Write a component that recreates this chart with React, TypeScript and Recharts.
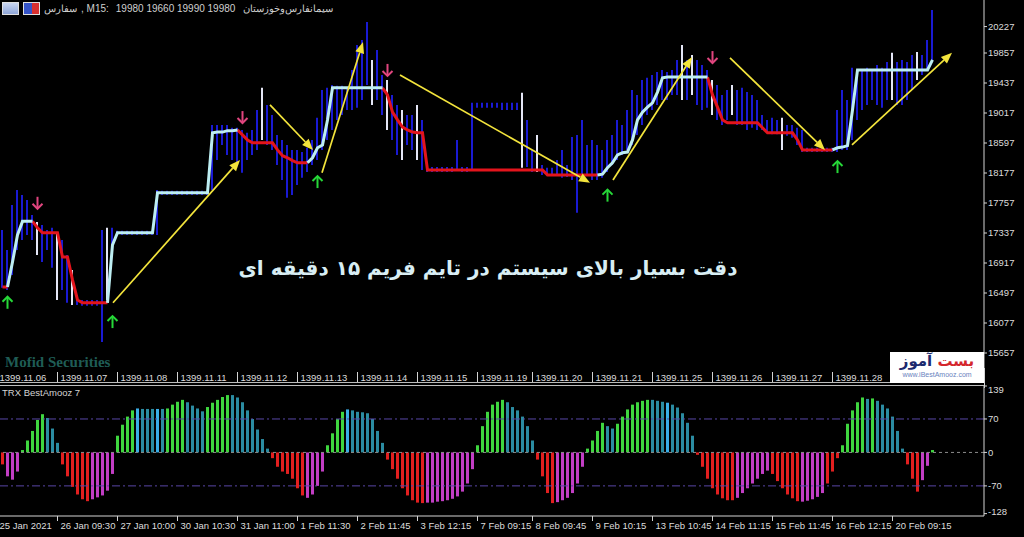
import React from 'react';
import {
    ComposedChart,
    Bar,
    Line,
    Scatter,
    XAxis,
    YAxis,
    ReferenceLine,
    Cell,
} from 'recharts';

// M15 bars: high / low per bar
const priceHigh = [
    17380, 17100, 17730, 17940, 17870, 17800, 17590, 17490, 17450, 17380,
    17410, 17350, 17240, 17030, 16820, 16470, 16400, 16400, 16400, 16400,
    17380, 17410, 17410, 17370, 17370, 17370, 17370, 17370, 17370, 17370,
    17370, 17940, 17930, 17930, 17930, 17930, 17930, 17930, 17930, 17930,
    17930, 17930, 18850, 18850, 18850, 18850, 18810, 18810, 18780, 18740,
    18780, 19060, 19370, 19130, 18990, 18710, 18640, 18570, 18500, 18500,
    18470, 18530, 18640, 18950, 19340, 19370, 19410, 19400, 19400, 19370,
    19620, 19970, 20040, 20290, 19760, 19900, 19550, 19480, 19270, 19130,
    19060, 18990, 18990, 19130, 18920, 18290, 18260, 18260, 18260, 18260,
    18260, 18640, 18260, 18260, 19160, 19160, 19160, 19160, 19160, 19160,
    19160, 19160, 19160, 19160, 19300, 18920, 18500, 18710, 18290, 18250,
    18250, 18360, 18500, 18290, 18680, 18710, 18920, 18570, 18640, 18570,
    18500, 18640, 18710, 18920, 18850, 19060, 19340, 19270, 19480, 19510,
    19550, 19590, 19620, 19590, 19620, 19760, 19970, 19760, 19830, 19760,
    19690, 19620, 19480, 19410, 19270, 19340, 19410, 19340, 19370, 19310,
    19270, 19200, 18990, 18920, 18950, 18920, 18950, 18850, 18850, 18810,
    18780, 18530, 18530, 18530, 18530, 18530, 18530, 19060, 19340, 19200,
    19650, 19620, 19620, 19650, 19620, 19690, 19650, 19730, 19860, 19730,
    19760, 19730, 19830, 19870, 19830, 20040, 20460,
];

const priceLow = [
    16570, 16540, 16750, 17100, 17240, 17310, 17240, 17030, 16930, 17100,
    16850, 16400, 16540, 16360, 16330, 16330, 16320, 16320, 16320, 16320,
    15810, 16400, 17100, 17310, 17310, 17310, 17310, 17310, 17310, 17310,
    17310, 17310, 17870, 17870, 17870, 17870, 17870, 17870, 17870, 17870,
    17870, 17870, 17940, 18360, 18570, 18430, 18360, 18330, 18180, 18360,
    18430, 18500, 18640, 18570, 18500, 18290, 18080, 17830, 17870, 18010,
    18110, 18190, 18290, 18360, 18500, 18640, 18780, 18920, 18990, 19060,
    19060, 19090, 19200, 19410, 19130, 19200, 18990, 18780, 18640, 18430,
    18360, 18570, 18500, 18360, 18220, 18190, 18190, 18190, 18190, 18190,
    18190, 18220, 18190, 18190, 18220, 19090, 19090, 19090, 19090, 19090,
    19060, 19060, 19060, 19060, 18250, 18260, 18190, 18190, 18150, 18140,
    18140, 18140, 18110, 18120, 18080, 17620, 18150, 18150, 18080, 18080,
    18110, 18190, 18290, 18360, 18430, 18500, 18570, 18710, 18850, 18990,
    19060, 19130, 19200, 19200, 19270, 19270, 19200, 19200, 19270, 19130,
    19060, 19090, 18990, 18920, 18850, 18920, 18990, 18850, 18850, 18780,
    18810, 18780, 18780, 18740, 18720, 18720, 18500, 18700, 18670, 18570,
    18470, 18470, 18470, 18470, 18470, 18470, 18470, 18470, 18500, 18500,
    18640, 18920, 19060, 19130, 19200, 19130, 19090, 19200, 19200, 19130,
    19130, 19200, 19340, 19480, 19550, 19620, 19730,
];

// bars drawn in white instead of blue
const whiteBars = [7, 11, 14, 21, 52, 74, 77, 80, 83, 104, 107, 136, 138, 142, 146, 156, 178, 183];

// trailing stop line and its direction (U = cyan, D = red)
const trail = [
    16580, 16580, 16930, 17310, 17500, 17500, 17500, 17410, 17340, 17340,
    17340, 17340, 17000, 17000, 16680, 16400, 16360, 16360, 16360, 16360,
    16360, 16360, 17170, 17340, 17340, 17340, 17340, 17340, 17340, 17340,
    17340, 17900, 17900, 17900, 17900, 17900, 17900, 17900, 17900, 17900,
    17900, 17900, 18740, 18750, 18750, 18770, 18770, 18780, 18710, 18640,
    18600, 18600, 18600, 18600, 18600, 18500, 18420, 18390, 18350, 18320,
    18320, 18320, 18390, 18530, 18570, 18920, 19370, 19370, 19370, 19370,
    19370, 19370, 19370, 19370, 19370, 19370, 19370, 19270, 19030, 18920,
    18820, 18780, 18750, 18740, 18740, 18220, 18220, 18220, 18220, 18220,
    18220, 18220, 18220, 18220, 18220, 18220, 18220, 18220, 18220, 18220,
    18220, 18220, 18220, 18220, 18220, 18220, 18220, 18220, 18220, 18150,
    18150, 18150, 18150, 18150, 18150, 18150, 18150, 18150, 18150, 18150,
    18160, 18250, 18320, 18430, 18460, 18470, 18640, 18920, 19030, 19100,
    19160, 19310, 19510, 19520, 19520, 19520, 19520, 19520, 19520, 19520,
    19520, 19520, 19270, 19100, 18920, 18880, 18880, 18880, 18880, 18880,
    18880, 18880, 18810, 18740, 18740, 18740, 18740, 18740, 18740, 18640,
    18500, 18500, 18500, 18500, 18500, 18500, 18500, 18530, 18540, 18560,
    19060, 19620, 19620, 19620, 19620, 19620, 19620, 19620, 19620, 19620,
    19620, 19620, 19620, 19620, 19620, 19620, 19760,
];

const trend =
    'DDUUUUUDDD' + 'DDDDDDDDDD' + 'DDUUUUUUUU' + 'UUUUUUUUUU' + 'UUUUUUUUDD' +
    'DDDDDDDDDD' + 'DDUUUUUUUU' + 'UUUUUUUDDD' + 'DDDDDDDDDD' + 'DDDDDDDDDD' +
    'DDDDDDDDDD' + 'DDDDDDDDDD' + 'UUUUUUUUUU' + 'UUUUUUUUUU' + 'UUDDDDDDDD' +
    'DDDDDDDDDD' + 'DDDDDDDUUU' + 'UUUUUUUUUU' + 'UUUUUUU';

// TRX BestAmooz 7 oscillator
const osc = [
    -25, -50, -57, -40, 5, 25, 45, 68, 80, 72,
    50, 20, -25, -50, -72, -88, -98, -102, -98, -94,
    -90, -80, -45, 35, 58, 75, 88, 92, 91, 91,
    91, 91, 91, 92, 100, 106, 110, 105, 98, 92,
    86, 95, 104, 110, 116, 120, 120, 115, 105, 88,
    70, 48, 28, 8, -12, -30, -40, -45, -55, -75,
    -90, -95, -88, -70, -40, 15, 40, 70, 85, 90,
    88, 85, 84, 82, 70, 45, 20, -15, -35, -55,
    -75, -90, -100, -105, -106, -105, -105, -103, -102, -100,
    -97, -92, -82, -65, -35, 15, 55, 85, 100, 106,
    110, 105, 95, 88, 75, 55, 25, -15, -50, -85,
    -106, -104, -100, -95, -85, -65, -30, 8, 25, 45,
    62, 55, 50, 60, 75, 90, 100, 105, 108, 110,
    110, 108, 106, 104, 100, 94, 82, 62, 35, -5,
    -30, -55, -75, -88, -96, -100, -100, -95, -85, -75,
    -65, -55, -45, -38, -45, -60, -75, -88, -96, -102,
    -103, -101, -98, -93, -85, -65, -40, -12, 15, 60,
    88, 105, 115, 112, 113, 108, 100, 92, 75, 45,
    8, -25, -55, -82, -58, -28, 5,
];

const oscColor =
    'rmmmgggggt' + 'ttrrrrrrmm' + 'mmmggggbtt' + 'tbtggggttt' + 'tgggggtttt' +
    'ttttrrrrrr' + 'rmmmmggggb' + 'tttttttrrr' + 'rrrrrmmmmm' + 'mmmmmggggg' +
    'gttttttrrr' + 'rmmmmmmggg' + 'gttggggggg' + 'tttbtttttr' + 'rrrrrrrmmm' +
    'mmmmrrrrrr' + 'mmmmmrrrgg' + 'gggtgttttt' + 'trrrmmg';

const OSC_COLORS: Record<string, string> = {
    g: '#3fd63f',
    t: '#2b8ca2',
    b: '#3aaee8',
    r: '#e21f1f',
    m: '#c23ec4',
};

const dateIdx = [0, 11, 23, 35, 47, 59, 71, 83, 95, 106, 118, 130, 142, 154, 166, 178];
const topDates = [
    '1399.11.06', '1399.11.07', '1399.11.08', '1399.11.11', '1399.11.12',
    '1399.11.13', '1399.11.14', '1399.11.15', '1399.11.19', '1399.11.20',
    '1399.11.21', '1399.11.25', '1399.11.26', '1399.11.27', '1399.11.28',
];
const bottomDates = [
    '25 Jan 2021', '26 Jan 09:30', '27 Jan 10:00', '30 Jan 10:30', '31 Jan 11:00',
    '1 Feb 11:30', '2 Feb 11:45', '3 Feb 12:15', '7 Feb 09:15', '8 Feb 09:45',
    '9 Feb 10:15', '13 Feb 10:45', '14 Feb 11:15', '15 Feb 11:45', '16 Feb 12:15',
    '20 Feb 09:15',
];

const priceTicks = [15657, 16077, 16497, 16917, 17337, 17757, 18177, 18597, 19017, 19437, 19857, 20227];
const oscTicks = [139, 70, 0, -70, -128];

const buySignals = [
    { idx: 1, price: 16360 },
    { idx: 22, price: 16090 },
    { idx: 63, price: 18050 },
    { idx: 121, price: 17860 },
    { idx: 167, price: 18260 },
];
const sellSignals = [
    { idx: 7, price: 17760 },
    { idx: 48, price: 18960 },
    { idx: 77, price: 19620 },
    { idx: 142, price: 19800 },
];

// hand-drawn yellow arrows: [fromIdx, fromPrice, toIdx, toPrice]
const trendArrows = [
    [22.1, 16360, 47.5, 18360],
    [53.5, 19130, 62.1, 18500],
    [63.9, 18180, 72.1, 20010],
    [79.5, 19550, 117.5, 18040],
    [122.1, 18080, 137.9, 19800],
    [145.5, 19790, 164.5, 18500],
    [169.9, 18570, 189.9, 19860],
];

const WIDTH = 1024;
const X_DOMAIN: [number, number] = [-0.5, 196.3];
const AXIS_FONT = '"Liberation Sans", Arial, sans-serif';
const AXIS_COLOR = '#d4d4d4';

// a point belongs to a colour when it or the next bar carries that direction;
// lone points are dropped so no stray dot is drawn
const inTrend = (dir: string, i: number) => trend[i] === dir || trend[i + 1] === dir;
const trailFor = (dir: string, i: number) => {
    if (!inTrend(dir, i)) return null;
    const hasNeighbour = (i > 0 && inTrend(dir, i - 1)) || (i < trail.length - 1 && inTrend(dir, i + 1));
    return hasNeighbour ? trail[i] : null;
};

const rows = priceHigh.map((high, i) => ({
    idx: i,
    range: [priceLow[i], high],
    up: trailFor('U', i),
    down: trailFor('D', i),
    osc: osc[i],
}));

const UpArrow = (p: any) => (
    <g stroke="#26d838" strokeWidth={2} fill="none">
        <line x1={p.cx} y1={p.cy - 6} x2={p.cx} y2={p.cy + 6} />
        <polyline points={`${p.cx - 5},${p.cy - 1} ${p.cx},${p.cy - 6} ${p.cx + 5},${p.cy - 1}`} />
    </g>
);

const DownArrow = (p: any) => (
    <g stroke="#e0457e" strokeWidth={2} fill="none">
        <line x1={p.cx} y1={p.cy - 6} x2={p.cx} y2={p.cy + 6} />
        <polyline points={`${p.cx - 5},${p.cy + 1} ${p.cx},${p.cy + 6} ${p.cx + 5},${p.cy + 1}`} />
    </g>
);

const YellowArrow = (p: any) => {
    const x1 = Number(p.x1), y1 = Number(p.y1), x2 = Number(p.x2), y2 = Number(p.y2);
    const a = Math.atan2(y2 - y1, x2 - x1);
    const len = 11, half = 4.5;
    const bx = x2 - len * Math.cos(a);
    const by = y2 - len * Math.sin(a);
    const pts = `${x2},${y2} ${bx + half * Math.sin(a)},${by - half * Math.cos(a)} ${bx - half * Math.sin(a)},${by + half * Math.cos(a)}`;
    return (
        <g>
            <line x1={x1} y1={y1} x2={bx} y2={by} stroke="#f3e43c" strokeWidth={1.7} />
            <polygon points={pts} fill="#f3e43c" />
        </g>
    );
};

const dateTick = (labels: string[], withAxis: boolean) => (p: any) => {
    const k = dateIdx.indexOf(p.payload.value);
    const label = labels[k];
    if (!label) return <g />;
    const x = Number(p.x);
    const y = Number(p.y);
    return (
        <g>
            {k > 0 && (
                <line
                    x1={x} x2={x}
                    y1={withAxis ? y : y + 2}
                    y2={withAxis ? y + 5 : y + 13}
                    stroke={AXIS_COLOR}
                />
            )}
            <text
                x={k > 0 ? x + 3 : x - 3}
                y={withAxis ? y + 13 : y + 11}
                fill="#dcdcdc"
                fontSize={9.5}
                fontFamily={AXIS_FONT}
            >
                {label}
            </text>
        </g>
    );
};

// oscillator scale labels are kept inside the pane
const oscTick = (p: any) => {
    const y = Math.min(Math.max(Number(p.y), 6), 128);
    return (
        <text x={Number(p.x)} y={y} dy="0.35em" fill="#dcdcdc" fontSize={9.5} fontFamily={AXIS_FONT}>
            {p.payload.value}
        </text>
    );
};

const Header = () => (
    <div style={{
        position: 'absolute', left: 2, top: 2, display: 'flex', alignItems: 'center',
        gap: 4, fontFamily: AXIS_FONT, fontSize: 10, color: '#cfcfcf', whiteSpace: 'nowrap',
    }}>
        <div style={{ width: 15, height: 11, background: 'linear-gradient(#c9d6f0, #8fa6d8)', border: '1px solid #e0e0e0' }} />
        <div style={{ width: 15, height: 11, background: 'linear-gradient(90deg, #3554c8 55%, #d83030 55%)', border: '1px solid #e0e0e0' }} />
        <span style={{ unicodeBidi: 'isolate', direction: 'rtl' }}>سفارس</span>
        <span>, M15:</span>
        <span style={{ marginLeft: 3 }}>19980 19660 19990 19980</span>
        <span style={{ unicodeBidi: 'isolate', direction: 'rtl', marginLeft: 4 }}>سیمانفارس‌وخوزستان</span>
    </div>
);

const Logo = () => (
    <div style={{
        position: 'absolute', left: 890, top: 352, width: 94, height: 31, background: '#ffffff',
        fontFamily: '"DejaVu Sans", sans-serif', textAlign: 'center', lineHeight: 1,
    }}>
        <div style={{ fontSize: 15, fontWeight: 700, marginTop: 2, direction: 'rtl' }}>
            <span style={{ color: '#d4262c' }}>بست</span>{' '}
            <span style={{ color: '#1c2a6e' }}>آموز</span>
        </div>
        <div style={{ fontSize: 7, color: '#6a84c0', marginTop: 2, fontFamily: AXIS_FONT }}>www.iBestAmooz.com</div>
    </div>
);

export default function App() {
    return (
        <div style={{ position: 'fixed', left: 0, top: 0, width: WIDTH, height: 537, background: '#000', overflow: 'hidden' }}>
            <div style={{ position: 'absolute', left: 0, top: 0 }}>
                <ComposedChart width={WIDTH} height={384} data={rows} margin={{ top: 0, right: 0, left: 0, bottom: 0 }}>
                    <XAxis
                        type="number"
                        dataKey="idx"
                        domain={X_DOMAIN}
                        allowDataOverflow
                        ticks={dateIdx.slice(0, topDates.length)}
                        interval={0}
                        axisLine={false}
                        tickLine={false}
                        tickSize={0}
                        tickMargin={0}
                        height={14}
                        tick={dateTick(topDates, false)}
                    />
                    <YAxis
                        orientation="right"
                        type="number"
                        domain={[15419, 20599]}
                        allowDataOverflow
                        ticks={priceTicks}
                        interval={0}
                        width={40}
                        axisLine={{ stroke: AXIS_COLOR }}
                        tickLine={{ stroke: AXIS_COLOR }}
                        tickSize={3}
                        tickMargin={1}
                        tick={{ fill: '#dcdcdc', fontSize: 9.5, fontFamily: AXIS_FONT }}
                    />
                    <Bar dataKey="range" barSize={2} isAnimationActive={false}>
                        {rows.map((r) => (
                            <Cell key={r.idx} fill={whiteBars.includes(r.idx) ? '#e4e6f6' : '#1a1ad2'} />
                        ))}
                    </Bar>
                    <Line dataKey="down" stroke="#e3141c" strokeWidth={3} dot={false} activeDot={false} isAnimationActive={false} />
                    <Line dataKey="up" stroke="#bdeef2" strokeWidth={3} dot={false} activeDot={false} isAnimationActive={false} />
                    <Scatter data={buySignals} dataKey="price" shape={UpArrow} isAnimationActive={false} />
                    <Scatter data={sellSignals} dataKey="price" shape={DownArrow} isAnimationActive={false} />
                    {trendArrows.map((a, i) => (
                        <ReferenceLine
                            key={i}
                            segment={[{ x: a[0], y: a[1] }, { x: a[2], y: a[3] }]}
                            ifOverflow="visible"
                            shape={YellowArrow}
                        />
                    ))}
                </ComposedChart>
            </div>

            <div style={{ position: 'absolute', left: 0, top: 384 }}>
                <ComposedChart width={WIDTH} height={153} data={rows} margin={{ top: 2, right: 0, left: 0, bottom: 0 }}>
                    <XAxis
                        type="number"
                        dataKey="idx"
                        domain={X_DOMAIN}
                        allowDataOverflow
                        ticks={dateIdx}
                        interval={0}
                        axisLine={{ stroke: AXIS_COLOR }}
                        tickLine={false}
                        tickSize={0}
                        tickMargin={0}
                        height={21}
                        tick={dateTick(bottomDates, true)}
                    />
                    <YAxis
                        orientation="right"
                        type="number"
                        domain={[-133, 139]}
                        allowDataOverflow
                        ticks={oscTicks}
                        interval={0}
                        width={40}
                        axisLine={{ stroke: AXIS_COLOR }}
                        tickLine={{ stroke: AXIS_COLOR }}
                        tickSize={3}
                        tickMargin={1}
                        tick={oscTick}
                    />
                    <ReferenceLine y={0} stroke="#8c8c8c" strokeDasharray="3 3" />
                    <ReferenceLine y={70} stroke="#5846a6" strokeDasharray="8 3 2 3" />
                    <ReferenceLine y={-70} stroke="#5846a6" strokeDasharray="8 3 2 3" />
                    <Bar dataKey="osc" barSize={3} isAnimationActive={false}>
                        {rows.map((r) => (
                            <Cell key={r.idx} fill={OSC_COLORS[oscColor[r.idx]]} />
                        ))}
                    </Bar>
                </ComposedChart>
            </div>

            {/* pane separator and axis continuation */}
            <div style={{ position: 'absolute', left: 0, top: 382, width: 984, height: 1, background: '#bcbcbc' }} />
            <div style={{ position: 'absolute', left: 0, top: 385, width: 984, height: 1, background: '#bcbcbc' }} />
            <div style={{ position: 'absolute', left: 984, top: 368, width: 1, height: 20, background: AXIS_COLOR }} />

            <Header />

            <div style={{
                position: 'absolute', left: 5, top: 354, fontFamily: '"Liberation Serif", serif',
                fontWeight: 700, fontSize: 15, color: '#1f5c55',
            }}>
                Mofid Securities
            </div>

            <div style={{
                position: 'absolute', left: 2, top: 387, fontFamily: AXIS_FONT, fontSize: 9.5, color: '#d4d4d4',
            }}>
                TRX BestAmooz 7
            </div>

            <div style={{
                position: 'absolute', left: 0, top: 253, width: 976, textAlign: 'center', direction: 'rtl',
                fontFamily: '"DejaVu Sans", sans-serif', fontWeight: 700, fontSize: 20, lineHeight: '30px',
                color: '#d8eef4',
            }}>
                دقت بسیار بالای سیستم در تایم فریم ۱۵ دقیقه ای
            </div>

            <Logo />
        </div>
    );
}
